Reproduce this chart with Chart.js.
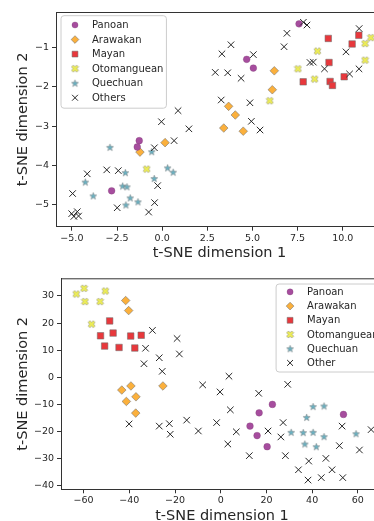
<!DOCTYPE html>
<html><head><meta charset="utf-8">
<script src="https://cdn.jsdelivr.net/npm/chart.js@4.4.1/dist/chart.umd.min.js"></script>
<style>
html,body{margin:0;padding:0;background:#fff;width:374px;height:521px;overflow:hidden;position:relative;}
#w1{position:absolute;left:0;top:0;width:390px;height:265px;}
#w2{position:absolute;left:0;top:265px;width:390px;height:262px;}
</style></head><body>
<div id="w1"><canvas id="c1" width="390" height="265"></canvas></div>
<div id="w2"><canvas id="c2" width="390" height="262"></canvas></div>
<script>
// ---------- DATA ----------
const labelsTop = ['Panoan','Arawakan','Mayan','Otomanguean','Quechuan','Others'];
const labelsBottom = ['Panoan','Arawakan','Mayan','Otomanguean','Quechuan','Other'];
const axisTitleX = 't-SNE dimension 1';
const axisTitleY = 't-SNE dimension 2';

const xTicksTop = [-5, -2.5, 0, 2.5, 5, 7.5, 10];
const yTicksTop = [-5, -4, -3, -2, -1];
const xTicksBottom = [-60, -40, -20, 0, 20, 40, 60];
const yTicksBottom = [-40, -30, -20, -10, 0, 10, 20, 30];

// top panel
const panoanTop = [[7.58,-0.41],[4.68,-1.31],[5.05,-1.53],[-1.27,-3.37],[-1.38,-3.53],[-2.80,-4.64]];
const arawakanTop = [[6.21,-1.60],[6.10,-2.08],[3.68,-2.50],[4.05,-2.72],[3.41,-3.05],[4.49,-3.13],[0.16,-3.42],[-1.23,-3.66]];
const mayanTop = [[9.20,-0.78],[10.89,-0.70],[10.52,-0.92],[9.24,-1.39],[10.08,-1.75],[7.81,-1.88],[9.30,-1.87],[9.43,-1.97]];
const otomangueanTop = [[11.56,-0.76],[11.24,-0.91],[8.60,-1.10],[11.24,-1.33],[7.52,-1.55],[8.44,-1.81],[5.96,-2.36],[-0.86,-4.09]];
const quechuanTop = [[-0.58,-3.65],[-2.89,-3.54],[-2.04,-4.18],[0.30,-4.06],[0.61,-4.17],[-4.26,-4.42],[-3.82,-4.77],[-2.19,-4.52],[-1.95,-4.54],[-0.44,-4.33],[-1.77,-4.82],[-1.34,-4.92],[-2.01,-5.00]];
const othersTop = [[7.82,-0.37],[8.02,-0.44],[6.91,-0.65],[3.81,-0.94],[3.31,-1.17],[5.05,-1.19],[6.75,-0.99],[2.94,-1.64],[3.63,-1.65],[4.37,-1.79],[3.27,-2.34],[4.86,-2.41],[4.94,-2.88],[5.42,-3.10],[1.48,-3.07],[0.88,-2.61],[-0.04,-2.89],[0.66,-3.37],[-0.43,-3.55],
  [10.91,-0.53],[10.18,-1.12],[8.19,-1.39],[8.37,-1.38],[8.99,-1.55],[10.90,-1.55],[10.38,-1.68],
  [-3.07,-4.11],[-2.43,-4.13],[-4.15,-4.21],[-4.96,-4.71],[-0.25,-4.51],[-2.49,-5.07],[-0.42,-4.94],[-0.75,-5.18],[-5.01,-5.22],[-4.70,-5.17],[-4.89,-5.29],[-4.63,-5.28]];

// bottom panel
const panoanBottom = [[22.6,-10.0],[16.8,-13.1],[12.8,-18.0],[15.9,-21.5],[20.3,-25.6],[53.7,-13.7]];
const arawakanBottom = [[-41.6,28.3],[-40.3,24.6],[-43.3,-4.7],[-39.3,-3.2],[-25.3,-3.2],[-37.1,-7.2],[-41.3,-8.9],[-37.2,-13.2]];
const mayanBottom = [[-48.6,20.8],[-47.1,16.3],[-52.6,15.3],[-50.8,11.5],[-44.5,11.0],[-39.4,15.2],[-34.8,15.5],[-37.6,10.8]];
const otomangueanBottom = [[-63.2,30.7],[-59.8,32.8],[-59.4,27.9],[-50.5,31.8],[-52.8,27.9],[-56.5,19.6]];
const quechuanBottom = [[40.4,-10.8],[45.2,-10.6],[37.6,-14.8],[30.8,-20.3],[36.1,-20.4],[40.4,-20.3],[45.2,-21.9],[36.8,-24.6],[41.8,-25.6],[59.2,-20.8]];
const othersBottom = [[-29.9,17.3],[-32.9,10.7],[-33.6,5.0],[-26.9,7.2],[-25.6,2.2],[-19.1,14.3],[-18.1,8.6],[-40.1,-17.2],[-26.9,-18.0],[-22.5,-17.1],[-22.1,-21.0],[-14.9,-15.8],[3.6,0.4],[-7.9,-2.8],[-0.3,-5.4],[16.6,-5.9],[29.3,-2.6],[4.2,-12.0],[-9.8,-19.8],[-1.8,-16.7],[6.8,-20.1],[3.1,-24.6],[20.7,-19.8],[27.3,-16.7],[26.3,-22.0],[12.5,-28.9],[28.3,-28.9],[38.5,-30.9],[46.0,-29.9],[34.0,-34.1],[38.2,-37.9],[44.0,-37.0],[48.7,-34.1],[53.4,-37.0],[51.9,-25.2],[60.7,-26.8],[53.1,-18.0],[65.8,-19.3]];

// ---------- STYLE ----------
const COL = {panoan:'#a64d9e', arawakan:'#fbb03c', mayan:'#e8383c', oto:'#eeee55', quechuan:'#6ab3c4', other:'#262626'};
const EDGE = 'rgba(110,110,110,0.9)';
const FONT = "'DejaVu Sans', sans-serif";
const TXT = '#262626';
Chart.defaults.font.family = FONT;

function makeStar(fill){
  const c = document.createElement('canvas'); c.width = 9; c.height = 9;
  const g = c.getContext('2d'); const cx = 4.5, cy = 4.8, R = 3.7, r = 1.5;
  g.beginPath();
  for(let i=0;i<10;i++){ const a = -Math.PI/2 + i*Math.PI/5; const rr = i%2? r:R; g.lineTo(cx+rr*Math.cos(a), cy+rr*Math.sin(a)); }
  g.closePath(); g.fillStyle = fill; g.fill(); g.lineWidth = 0.5; g.strokeStyle = EDGE; g.stroke();
  return c;
}
function makeFilledX(fill){
  const c = document.createElement('canvas'); c.width = 9; c.height = 9;
  const g = c.getContext('2d'); const cx = 4.5, cy = 4.5, L = 3.7, a = 1.3;
  const pts = [[a,L],[a,a],[L,a],[L,-a],[a,-a],[a,-L],[-a,-L],[-a,-a],[-L,-a],[-L,a],[-a,a],[-a,L]];
  const k = Math.SQRT1_2;
  g.beginPath();
  pts.forEach(([x,y])=>{ g.lineTo(cx + (x - y)*k, cy + (x + y)*k); });
  g.closePath(); g.fillStyle = fill; g.fill(); g.lineWidth = 0.5; g.strokeStyle = EDGE; g.stroke();
  return c;
}
const starImg = makeStar(COL.quechuan);
const xImg = makeFilledX(COL.oto);

const toPts = arr => arr.map(([x,y]) => ({x, y}));
function datasets(labels, p, a, m, o, q, oth){
  return [
    {label:labels[0], data:toPts(p), pointStyle:'circle', pointRadius:3.4, backgroundColor:COL.panoan, borderColor:'rgba(120,60,110,0.6)', borderWidth:0.5, order:1},
    {label:labels[1], data:toPts(a), pointStyle:'rectRot', pointRadius:4.3, backgroundColor:COL.arawakan, borderColor:EDGE, borderWidth:0.6, order:1},
    {label:labels[2], data:toPts(m), pointStyle:'rect', pointRadius:4.6, backgroundColor:COL.mayan, borderColor:EDGE, borderWidth:0.6, order:1},
    {label:labels[3], data:toPts(o), pointStyle:xImg, pointRadius:3.5, backgroundColor:COL.oto, borderColor:EDGE, borderWidth:0, order:1},
    {label:labels[4], data:toPts(q), pointStyle:starImg, pointRadius:3.5, backgroundColor:COL.quechuan, borderColor:EDGE, borderWidth:0, order:1},
    {label:labels[5], data:toPts(oth), pointStyle:'crossRot', pointRadius:4.6, backgroundColor:COL.other, borderColor:COL.other, borderWidth:1, order:-1}
  ];
}

const fmt = (v, dec) => (dec ? Number(v).toFixed(dec) : String(v)).replace('-', '\u2212');

function makeScales(o){
  const common = {
    type:'linear',
    grid:{display:true, drawOnChartArea:false, drawTicks:true, tickLength:4, color:'#333', lineWidth:1},
    border:{display:true, color:'#333', width:1}
  };
  return {
    x: Object.assign({}, common, {
      position:'bottom', min:o.xmin, max:o.xmax,
      afterBuildTicks: s => { s.ticks = o.xticks.map(v => ({value:v})); },
      afterFit: s => { s.height = o.xh; },
      ticks:{font:{size:9.5}, color:TXT, padding:2, maxRotation:0, autoSkip:false, callback:v => fmt(v, o.xdec)},
      title:{display:true, text:axisTitleX, font:{size:14.5}, color:TXT, padding:{top:0, bottom:o.xtb}}
    }),
    y: Object.assign({}, common, {
      position:'left', min:o.ymin, max:o.ymax,
      afterBuildTicks: s => { s.ticks = o.yticks.map(v => ({value:v})); },
      afterFit: s => { s.width = o.yw; },
      ticks:{font:{size:9.5}, color:TXT, padding:3, autoSkip:false, callback:v => fmt(v, 0)},
      title:{display:true, text:axisTitleY, font:{size:14.5}, color:TXT, padding:{top:o.ytp, bottom:0}}
    })
  };
}

const framePlugin = {
  id:'frame',
  afterDraw(chart){
    const {ctx, chartArea:ca} = chart;
    ctx.save(); ctx.strokeStyle = '#333'; ctx.lineWidth = 1;
    ctx.beginPath();
    ctx.moveTo(ca.left, ca.top + 0.5); ctx.lineTo(ca.right, ca.top + 0.5);
    ctx.moveTo(ca.right - 0.5, ca.top); ctx.lineTo(ca.right - 0.5, ca.bottom);
    ctx.stroke(); ctx.restore();
  }
};

const innerLegend = {
  id:'innerLegend',
  afterDraw(chart, args, opts){
    const {ctx, chartArea:ca} = chart;
    const ds = chart.data.datasets;
    ctx.save();
    ctx.font = '10px ' + FONT;
    const maxW = Math.max(...ds.map(d => ctx.measureText(d.label).width));
    const w = 31 + maxW + 3, h = opts.h;
    const x0 = opts.side === 'left' ? ca.left + opts.dx : ca.right - opts.dx - w;
    const y0 = ca.top + opts.dy;
    const r = 3;
    ctx.beginPath();
    ctx.moveTo(x0 + r, y0); ctx.lineTo(x0 + w - r, y0); ctx.arcTo(x0 + w, y0, x0 + w, y0 + r, r);
    ctx.lineTo(x0 + w, y0 + h - r); ctx.arcTo(x0 + w, y0 + h, x0 + w - r, y0 + h, r);
    ctx.lineTo(x0 + r, y0 + h); ctx.arcTo(x0, y0 + h, x0, y0 + h - r, r);
    ctx.lineTo(x0, y0 + r); ctx.arcTo(x0, y0, x0 + r, y0, r); ctx.closePath();
    ctx.fillStyle = 'rgba(255,255,255,0.85)'; ctx.fill();
    ctx.strokeStyle = '#cccccc'; ctx.lineWidth = 1; ctx.stroke();
    ds.forEach((d, i) => {
      const cy = y0 + opts.row0 + i * opts.rowH;
      const cx = x0 + 14;
      ctx.fillStyle = d.backgroundColor; ctx.strokeStyle = d.borderColor; ctx.lineWidth = d.borderWidth;
      if (Chart.helpers && Chart.helpers.drawPoint) {
        Chart.helpers.drawPoint(ctx, {pointStyle:d.pointStyle, radius:d.pointRadius * 0.9, rotation:0, borderWidth:d.borderWidth}, cx, cy);
      }
      ctx.fillStyle = TXT; ctx.textBaseline = 'middle'; ctx.textAlign = 'left';
      ctx.font = '10px ' + FONT;
      ctx.fillText(d.label, x0 + 31, cy + 0.5);
    });
    ctx.restore();
  }
};

function build(id, dsets, scaleOpts, padding, legendOpts){
  return new Chart(document.getElementById(id), {
    type:'scatter',
    data:{datasets:dsets},
    options:{
      responsive:false, animation:false, devicePixelRatio:1, events:[],
      layout:{padding},
      scales:makeScales(scaleOpts),
      plugins:{legend:{display:false}, tooltip:{enabled:false}, innerLegend:legendOpts}
    },
    plugins:[framePlugin, innerLegend]
  });
}

build('c1',
  datasets(labelsTop, panoanTop, arawakanTop, mayanTop, otomangueanTop, quechuanTop, othersTop),
  {xmin:-5.88, xmax:12.23, ymin:-5.55, ymax:-0.11, xticks:xTicksTop, yticks:yTicksTop, xdec:1, xh:38.3, yw:56, xtb:3, ytp:15},
  {left:0, top:12, right:7, bottom:0},
  {side:'left', dx:5, dy:3.7, h:92.5, row0:9.3, rowH:14.55});

build('c2',
  datasets(labelsBottom, panoanBottom, arawakanBottom, mayanBottom, otomangueanBottom, quechuanBottom, othersBottom),
  {xmin:-69.9, xmax:71.0, ymin:-41.3, ymax:36.5, xticks:xTicksBottom, yticks:yTicksBottom, xdec:0, xh:37.7, yw:61, xtb:2.3, ytp:15},
  {left:0, top:13.3, right:7, bottom:0},
  {side:'right', dx:1.5, dy:5.7, h:88, row0:7.9, rowH:14.2});
</script>
</body></html>
